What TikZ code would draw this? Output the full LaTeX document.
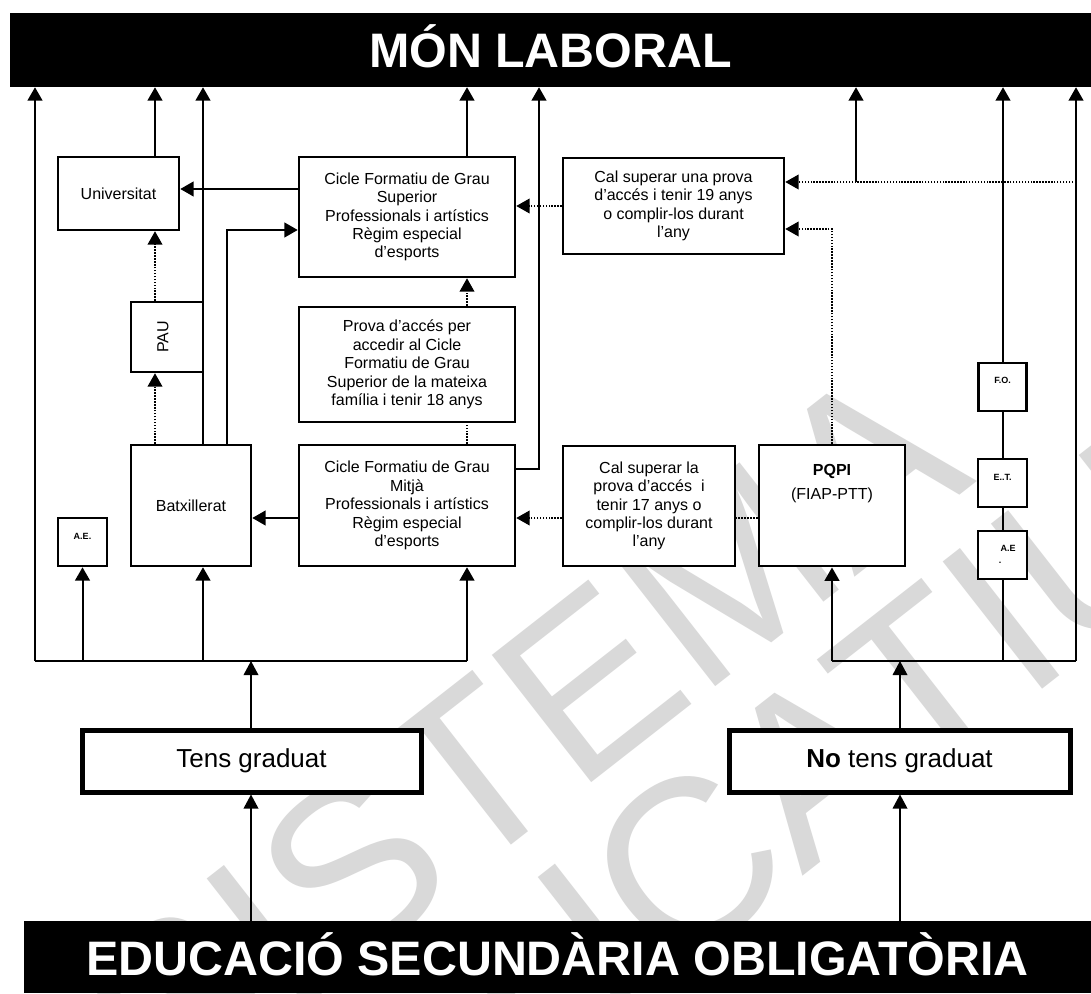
\documentclass[tikz,border=0pt]{standalone}
\usepackage{fontspec}
\setmainfont{Liberation Sans}
\usetikzlibrary{arrows.meta,calc}
\definecolor{wmgray}{RGB}{217,217,217}
\begin{document}
\begin{tikzpicture}[x=0.75pt,y=-0.75pt,
  wh/.style 2 args={minimum width=#1*0.75pt, minimum height=#2*0.75pt},
  box/.style={draw, line width=1.9pt, fill=white, inner sep=0pt, align=center,
              font=\fontsize{12}{13.8}\selectfont},
  bigbox/.style={draw, line width=3.75pt, fill=white, inner sep=0pt,
              font=\fontsize{19.5}{22}\selectfont},
  bar/.style={fill=black, inner sep=0pt, text=white, text height=27pt, text depth=0pt,
              font=\bfseries\fontsize{36.3}{40}\selectfont},
  tiny/.style={inner sep=0pt, font=\bfseries\fontsize{6.75}{8}\selectfont},
  wmtext/.style={text=wmgray, inner sep=0pt, rotate=38, font=\fontsize{176}{190}\selectfont},
  ln/.style={line width=1.5pt},
  arr/.style={ln, -{Triangle[width=11pt,length=10pt]}},
  thinarr/.style={line width=1pt, -{Triangle[width=11pt,length=10.5pt]}},
  dotln/.style={line width=1.1pt, dash pattern=on 1.1pt off 1.1pt},
  dotarr/.style={dotln, -{Triangle[width=11pt,length=10pt]}}
]
\useasboundingbox (0,0) rectangle (1091,994);
\fill[white] (0,0) rectangle (1091,994);

% watermark
\node[wmtext] (wm1) at (522,735) {SISTEMA};
\node[wmtext] (wm2) at (695,858) {EDUCATIU};

% bars
\node[bar, wh={1081}{74}] (top) at (550.5,50) {MÓN LABORAL};
\node[bar, wh={1067}{72}] (eso) at (557.5,957) {EDUCACIÓ SECUNDÀRIA OBLIGATÒRIA};

% boxes
\node[box, wh={121}{73}] (univ) at (118.5,193.5) {Universitat};
\node[box, wh={216}{120}] (cfgs) at (407,217) {Cicle Formatiu de Grau\\Superior\\Professionals i artístics\\Règim especial\\d’esports};
\node[box, wh={72}{70}] (pau) at (167,337) {};
\node[inner sep=0pt, rotate=90, font=\fontsize{12}{13.8}\selectfont] (pautxt) at (163,337) {PAU};
\node[box, wh={216}{115}] (prova) at (407,364.5) {Prova d’accés per\\accedir al Cicle\\Formatiu de Grau\\Superior de la mateixa\\família i tenir 18 anys};
\node[box, wh={120}{121}] (batx) at (191,505.5) {Batxillerat};
\node[box, wh={49}{48}] (aeL) at (82.5,542) {};
\node[tiny] (aeLtxt) at (82.5,536) {A.E.};
\node[box, wh={216}{121}] (cfgm) at (407,505.5) {Cicle Formatiu de Grau\\Mitjà\\Professionals i artístics\\Règim especial\\d’esports};
\node[box, wh={221}{96}] (cal19) at (673.5,206) {Cal superar una prova\\d’accés i tenir 19 anys\\o complir-los durant\\l’any};
\node[box, wh={172}{120}] (cal17) at (649,506) {Cal superar la\\prova d’accés\ \ i\\tenir 17 anys o\\complir-los durant\\l’any};
\node[box, line width=2.2pt, wh={146}{121}] (pqpi) at (832,505.5) {};
\node[inner sep=0pt, align=center, font=\fontsize{12}{18}\selectfont] (pqpitxt) at (832,484) {\textbf{PQPI}\\(FIAP-PTT)};
\node[box, wh={48}{48}] (fo) at (1002.5,387) {};
\node[tiny] (fotxt) at (1002.5,380) {F.O.};
\node[box, wh={49}{48}] (et) at (1002.5,483) {};
\node[tiny] (ettxt) at (1002.5,477) {E..T.};
\node[box, wh={49}{48}] (aeR) at (1002.5,555) {};
\node[tiny] (aeRtxt) at (1008,548) {A.E};
\node[tiny] (aeRdot) at (1000,563) {.};
\node[bigbox, wh={339}{62}] (tens) at (251.5,761) {Tens graduat};
\node[bigbox, wh={341}{62}] (notens) at (899.5,761) {\textbf{No} tens graduat};

% reference coordinates
\coordinate (xA) at (35,0);
\coordinate (xU) at (155,0);
\coordinate (xB) at (203,0);
\coordinate (xB2) at (227,0);
\coordinate (xC) at (467,0);
\coordinate (xM) at (539,0);
\coordinate (xS) at (856,0);
\coordinate (xP) at (832,0);
\coordinate (xF) at (1003,0);
\coordinate (xR) at (1076,0);
\coordinate (xT) at (251,0);
\coordinate (xN) at (900,0);
\coordinate (yBus) at (0,661);
\coordinate (y182) at (0,182);
\coordinate (y189) at (0,189);
\coordinate (y206) at (0,206);
\coordinate (y229) at (0,229);
\coordinate (y230) at (0,230);
\coordinate (y469) at (0,469);
\coordinate (y518) at (0,518);

% left bus
\draw[ln] (xA |- yBus) -- (xC |- yBus);
\draw[arr] (xA |- yBus) -- (xA |- top.south);
\draw[arr] (aeL.south |- yBus) -- (aeL.south);
\draw[arr] (xB |- yBus) -- (xB |- batx.south);
\draw[arr] (xC |- yBus) -- (xC |- cfgm.south);
\draw[thinarr] (xT |- tens.north) -- (xT |- yBus);
\draw[arr] (xU |- univ.north) -- (xU |- top.south);
\draw[arr] (xB |- batx.north) -- (xB |- top.south);
\draw[arr] (xB2 |- batx.north) -- (xB2 |- y230) -- (cfgs.west |- y230);
\draw[arr] (xC |- cfgs.north) -- (xC |- top.south);
\draw[arr] (cfgm.east |- y469) -- (xM |- y469) -- (xM |- top.south);
\draw[arr] (cfgs.west |- y189) -- (univ.east |- y189);
\draw[arr] (cfgm.west |- y518) -- (batx.east |- y518);

% dotted
\draw[dotarr] (xU |- pau.north) -- (xU |- univ.south);
\draw[dotarr] (xU |- batx.north) -- (xU |- pau.south);
\draw[dotarr] (xC |- prova.north) -- (xC |- cfgs.south);
\draw[dotln] (xC |- cfgm.north) -- (xC |- prova.south);
\draw[dotarr] (cal19.west |- y206) -- (cfgs.east |- y206);
\draw[dotarr] (xR |- y182) -- (cal19.east |- y182);
\draw[arr] (xS |- y182) -- (xS |- top.south);
\draw[dotarr] (xP |- pqpi.north) -- (xP |- y229) -- (cal19.east |- y229);
\draw[dotarr] (cal17.west |- y518) -- (cfgm.east |- y518);
\draw[dotln] (pqpi.west |- y518) -- (cal17.east |- y518);

% right bus
\draw[ln] (xP |- yBus) -- (xR |- yBus);
\draw[arr] (xP |- yBus) -- (xP |- pqpi.south);
\draw[ln] (xF |- yBus) -- (xF |- aeR.south);
\draw[ln] (xF |- aeR.north) -- (xF |- et.south);
\draw[ln] (xF |- et.north) -- (xF |- fo.south);
\draw[arr] (xF |- fo.north) -- (xF |- top.south);
\draw[arr] (xR |- yBus) -- (xR |- top.south);
\draw[thinarr] (xN |- notens.north) -- (xN |- yBus);

% from ESO
\draw[thinarr] (xT |- eso.north) -- (xT |- tens.south);
\draw[thinarr] (xN |- eso.north) -- (xN |- notens.south);
\end{tikzpicture}
\end{document}
